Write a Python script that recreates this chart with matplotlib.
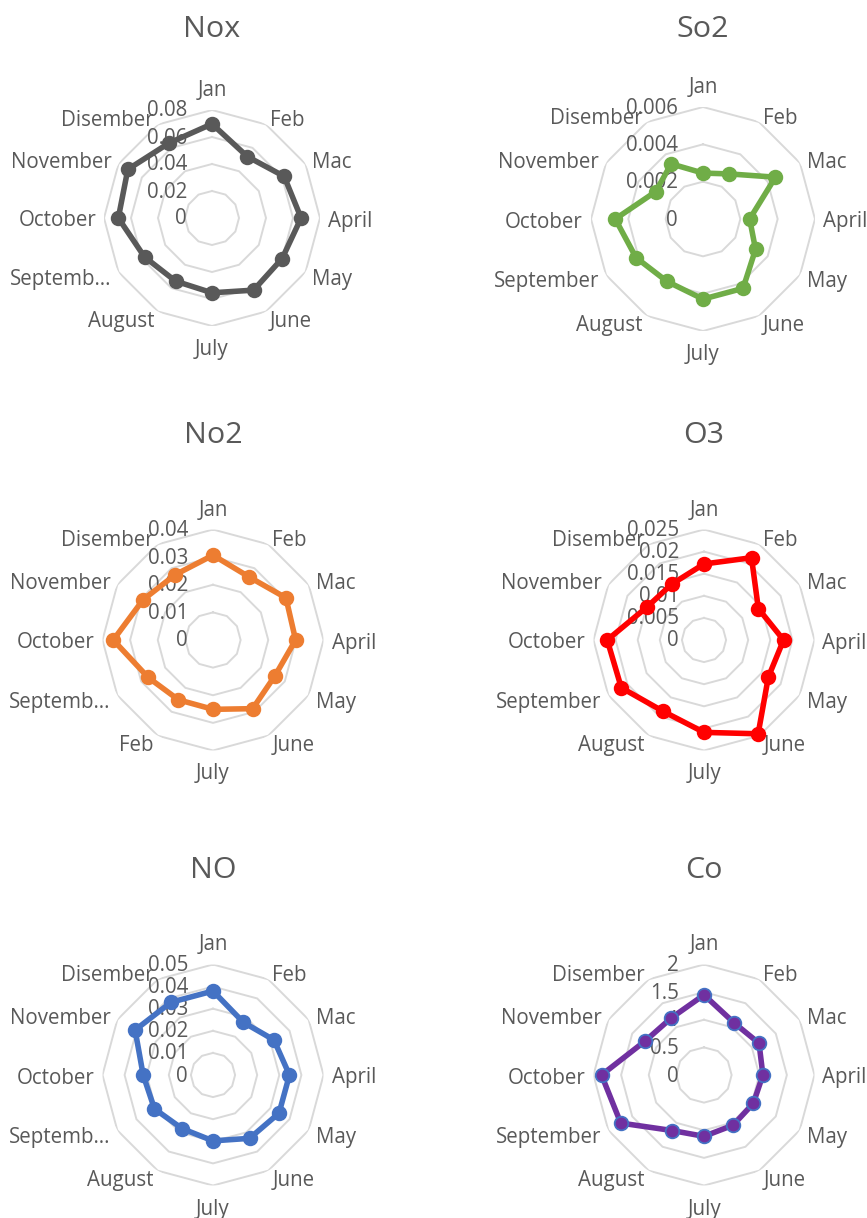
import numpy as np
import matplotlib
matplotlib.use("Agg")
import matplotlib.pyplot as plt

plt.rcParams['font.family'] = ['Open Sans', 'DejaVu Sans']

W, H = 867, 1218
DPI = 100
PX = 72.0 / DPI  # points per pixel

months = ['Jan', 'Feb', 'Mac', 'April', 'May', 'June', 'July',
          'August', 'September', 'October', 'November', 'Disember']
months_short = ['Jan', 'Feb', 'Mac', 'April', 'May', 'June', 'July',
                'August', 'Septemb\u2026', 'October', 'November', 'Disember']
months_no2 = ['Jan', 'Feb', 'Mac', 'April', 'May', 'June', 'July',
              'Feb', 'Septemb\u2026', 'October', 'November', 'Disember']

nox = [0.0697, 0.0525, 0.0617, 0.0660, 0.0600, 0.0617, 0.0554, 0.0540, 0.0577, 0.0694, 0.0720, 0.0640]
so2 = [0.00246, 0.00279, 0.00448, 0.00250, 0.00325, 0.00429, 0.00429, 0.00386, 0.00414, 0.00470, 0.00293, 0.00341]
no2 = [0.0307, 0.0263, 0.0305, 0.0299, 0.0259, 0.0287, 0.0251, 0.0250, 0.0271, 0.0361, 0.0292, 0.0273]
o3 = [0.0172, 0.0215, 0.0142, 0.0180, 0.0168, 0.0245, 0.0209, 0.0186, 0.0216, 0.0219, 0.0149, 0.0146]
no = [0.0380, 0.0275, 0.0318, 0.0346, 0.0345, 0.0331, 0.0298, 0.0280, 0.0306, 0.0316, 0.0407, 0.0380]
co = [1.45, 1.09, 1.15, 1.066, 1.03, 1.05, 1.11, 1.16, 1.74, 1.855, 1.23, 1.19]

nox_ticks = [0, 0.02, 0.04, 0.06, 0.08]
so2_ticks = [0, 0.002, 0.004, 0.006]
no2_ticks = [0, 0.01, 0.02, 0.03, 0.04]
o3_ticks = [0, 0.005, 0.01, 0.015, 0.02, 0.025]
no_ticks = [0, 0.01, 0.02, 0.03, 0.04, 0.05]
co_ticks = [0, 0.5, 1, 1.5, 2]

TEXT = '#595959'
GRID = '#D9D9D9'

# (title, values, ticks, labels, line colour, marker edge, centre x, centre y, radius px, title baseline y)
charts = [
    ('Nox', nox, nox_ticks, months_short, '#595959', '#595959', 212, 218, 108, 37),
    ('So2', so2, so2_ticks, months, '#70AD47', '#70AD47', 703, 219, 112, 37),
    ('No2', no2, no2_ticks, months_no2, '#ED7D31', '#ED7D31', 213, 640, 110.5, 443),
    ('O3', o3, o3_ticks, months, '#FF0000', '#FF0000', 704, 640, 110.5, 443),
    ('NO', no, no_ticks, months_short, '#4472C4', '#4472C4', 213, 1075, 110.5, 878),
    ('Co', co, co_ticks, months, '#7030A0', '#4472C4', 704, 1075, 110.5, 878),
]

fig = plt.figure(figsize=(W / DPI, H / DPI), dpi=DPI)
fig.patch.set_facecolor('white')

n = len(months)
theta = np.arange(n) * 2 * np.pi / n
theta_c = np.append(theta, theta[0])

for title, vals, ticks, labels, color, edge, cx, cy, R, ty in charts:
    ax = fig.add_axes([(cx - R) / W, 1 - (cy + R) / H, 2 * R / W, 2 * R / H],
                      projection='polar')
    ax.set_theta_zero_location('N')
    ax.set_theta_direction(-1)
    rmax = ticks[-1]
    ax.set_ylim(0, rmax)
    ax.set_xticks([])
    ax.set_yticks([])
    ax.grid(False)
    ax.spines['polar'].set_visible(False)
    ax.patch.set_alpha(0)

    # polygonal gridlines
    for t in ticks[1:]:
        ax.plot(theta_c, [t] * (n + 1), color=GRID, lw=1.4, zorder=1,
                solid_joinstyle='miter')

    # value axis labels
    for t in ticks:
        ax.annotate(f'{t:g}', xy=(0, t), xytext=(-25 * PX, -1 * PX),
                    textcoords='offset points', ha='right', va='center',
                    fontsize=14.8, color=TEXT, annotation_clip=False, zorder=2)

    # category labels
    off = 8
    for th, lab in zip(theta, labels):
        s, c = np.sin(th), np.cos(th)
        if abs(s) < 0.1:
            ha = 'center'
            if c > 0:
                va, dx, dy = 'bottom', 0, off + 1
            else:
                va, dx, dy = 'top', 0, -(off + 5)
        else:
            ha = 'left' if s > 0 else 'right'
            va = 'center'
            dx, dy = off * s, off * c - 3
        ax.annotate(lab, xy=(th, rmax), xytext=(dx * PX, dy * PX),
                    textcoords='offset points', ha=ha, va=va,
                    fontsize=14.8, color=TEXT, annotation_clip=False)

    v = list(vals) + [vals[0]]
    ax.plot(theta_c, v, color=color, lw=4.0, zorder=3, solid_joinstyle='round')
    ax.plot(theta, vals, linestyle='none', marker='o', markersize=9.8,
            markerfacecolor=color, markeredgecolor=edge, markeredgewidth=1.3,
            zorder=4, clip_on=False)

    fig.text(cx / W, 1 - ty / H, title, ha='center', va='baseline',
             fontsize=21.9, color=TEXT)

fig.savefig('out.png', dpi=DPI, facecolor='white')
